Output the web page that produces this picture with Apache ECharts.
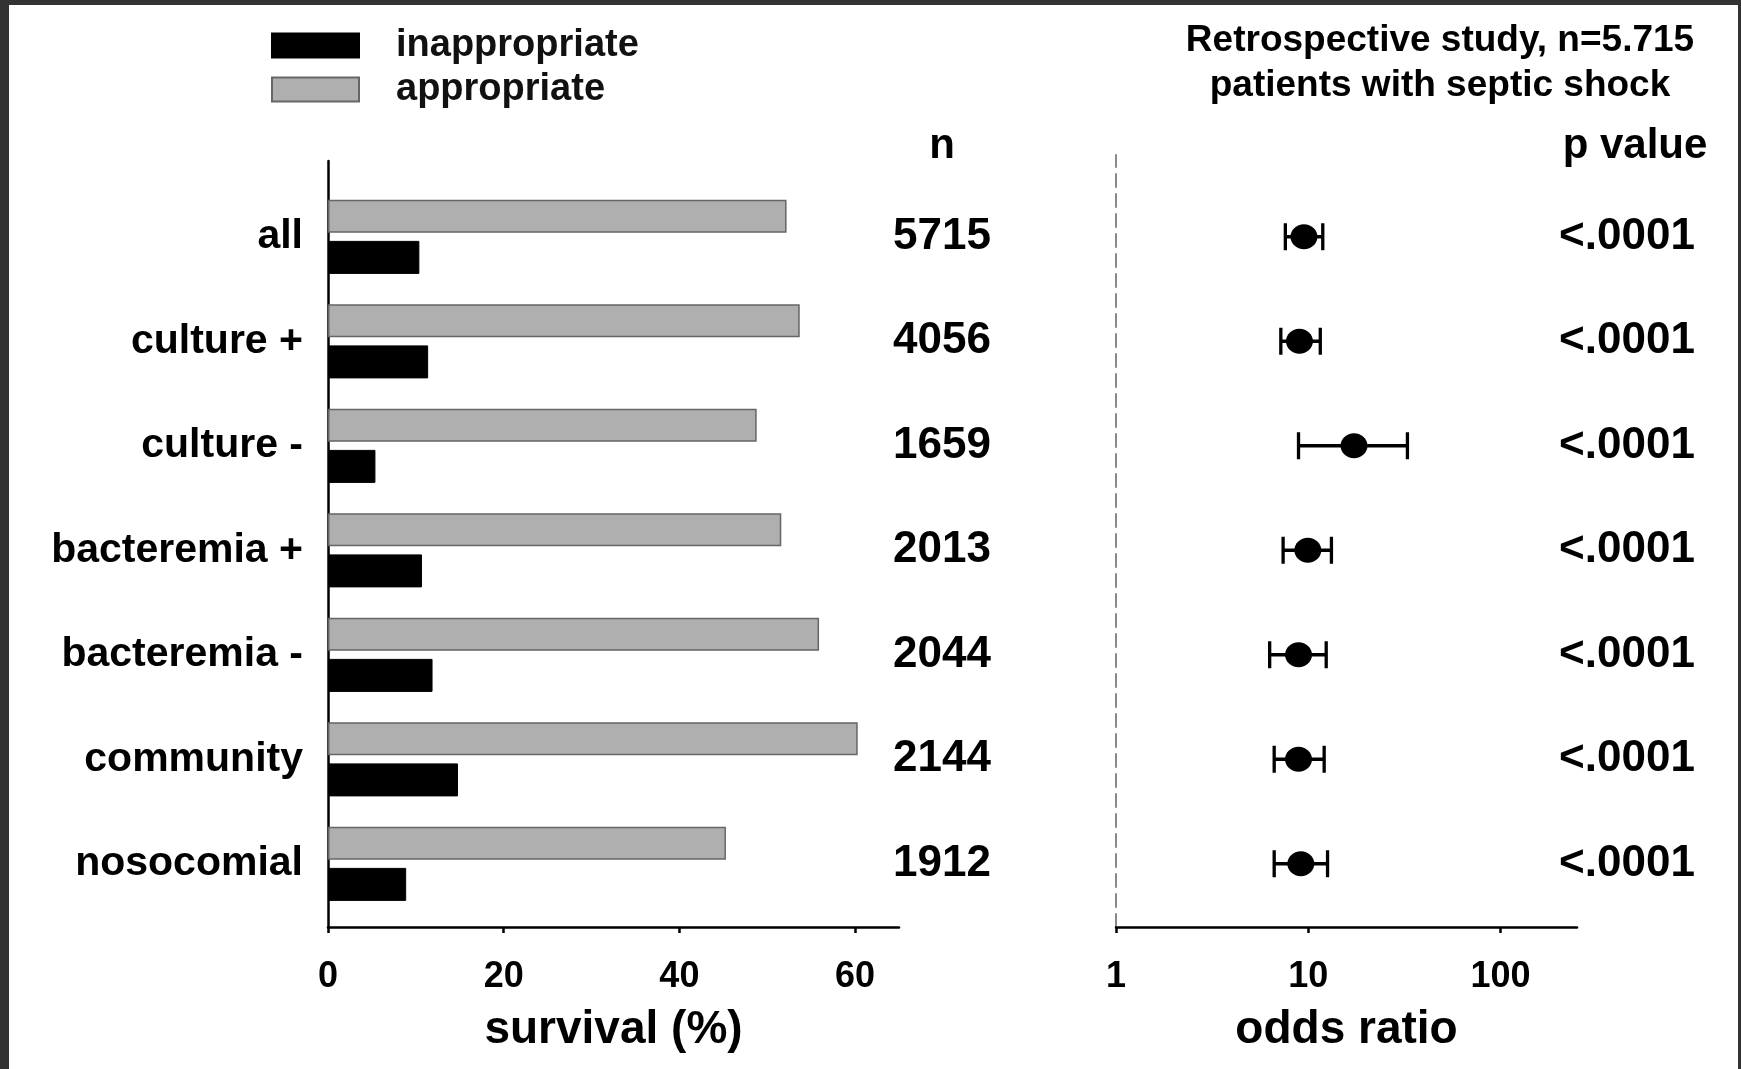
<!DOCTYPE html>
<html>
<head>
<meta charset="utf-8">
<script src="https://cdn.jsdelivr.net/npm/echarts@6/dist/echarts.min.js"></script>
<style>
html,body{margin:0;padding:0;background:#333;}
#chart{position:absolute;left:0;top:0;width:1741px;height:1069px;background:#fff;}
#frame{position:absolute;left:0;top:0;width:1741px;height:1069px;box-sizing:border-box;border-left:9px solid #333;border-top:5px solid #333;border-right:3px solid #333;pointer-events:none;}
</style>
</head>
<body>
<div id="chart"></div>
<div id="frame"></div>
<script>
// ---- data ----
const categories = ['all', 'culture +', 'culture -', 'bacteremia +', 'bacteremia -', 'community', 'nosocomial'];
const appropriate = [52.2, 53.7, 48.8, 51.6, 55.9, 60.3, 45.3];
const inappropriate = [10.4, 11.4, 5.4, 10.7, 11.9, 14.8, 8.9];
const nValues = ['5715', '4056', '1659', '2013', '2044', '2144', '1912'];
const oddsRatio = [9.5, 9.0, 17.3, 9.95, 8.9, 8.9, 9.15];
const ciLow = [7.6, 7.2, 8.9, 7.4, 6.3, 6.65, 6.65];
const ciHigh = [11.9, 11.55, 32.8, 13.2, 12.4, 12.1, 12.6];
const pValues = ['<.0001', '<.0001', '<.0001', '<.0001', '<.0001', '<.0001', '<.0001'];
const survivalTicks = [0, 20, 40, 60];
const oddsTicks = [1, 10, 100];
const legendNames = ['inappropriate', 'appropriate'];
const titleText = 'Retrospective study, n=5.715\npatients with septic shock';

// ---- layout ----
const F = 'Liberation Sans';
const INK = '#000';
const barLeft = 328, barWidthPx = 571;
const forestLeft = 1116, forestWidthPx = 461;
const axisBottom = 1069 - 927;
const rowTop = 184.5, rowHeight = 731.5;

const chart = echarts.init(document.getElementById('chart'));

const forestData = categories.map((c, i) => [oddsRatio[i], i, ciLow[i], ciHigh[i]]);

const boldText = (size) => ({ fontFamily: F, fontWeight: 'bold', fontSize: size, color: INK });

const option = {
  animation: false,
  backgroundColor: '#fff',
  title: [
    { text: titleText, left: 1440, top: 63.5, textAlign: 'center', textVerticalAlign: 'middle', padding: 0,
      textStyle: Object.assign(boldText(37), { lineHeight: 44.5 }) },
    { text: 'n', left: 942, top: 146, textAlign: 'center', textVerticalAlign: 'middle', padding: 0, textStyle: boldText(42) },
    { text: 'p value', left: 1635, top: 146, textAlign: 'center', textVerticalAlign: 'middle', padding: 0, textStyle: boldText(42) }
  ],
  legend: {
    data: legendNames, orient: 'vertical', left: 271, top: 26.5, padding: 0,
    itemWidth: 87, itemHeight: 24, itemGap: 6, icon: 'rect',
    textStyle: { fontFamily: F, fontWeight: 'bold', fontSize: 38, color: '#111', padding: [0, 0, 0, 32] }
  },
  grid: [
    { left: barLeft, width: barWidthPx, top: 161, bottom: axisBottom, containLabel: false },
    { left: barLeft, width: barWidthPx, top: rowTop, height: rowHeight, containLabel: false },
    { left: forestLeft, width: forestWidthPx, top: 155, bottom: axisBottom, containLabel: false },
    { left: forestLeft, width: forestWidthPx, top: rowTop, height: rowHeight, containLabel: false }
  ],
  xAxis: [
    { gridIndex: 0, type: 'value', min: 0, max: 65, interval: 20, position: 'bottom',
      axisLine: { show: true, onZero: false, lineStyle: { color: INK, width: 2.5 } },
      axisTick: { show: true, length: 6, customValues: survivalTicks, lineStyle: { color: INK, width: 2.5 } },
      axisLabel: { customValues: survivalTicks, margin: 32, fontFamily: F, fontWeight: 'bold', fontSize: 36, color: INK },
      splitLine: { show: false },
      name: 'survival (%)', nameLocation: 'middle', nameGap: 80, nameTextStyle: boldText(46) },
    { gridIndex: 1, type: 'value', min: 0, max: 65, show: false, splitLine: { show: false } },
    { gridIndex: 2, type: 'log', logBase: 10, min: 1, max: 250, position: 'bottom',
      axisLine: { show: true, onZero: false, lineStyle: { color: INK, width: 2.5 } },
      axisTick: { show: true, length: 6, customValues: oddsTicks, lineStyle: { color: INK, width: 2.5 } },
      axisLabel: { customValues: oddsTicks, margin: 32, fontFamily: F, fontWeight: 'bold', fontSize: 36, color: INK },
      splitLine: { show: false }, minorTick: { show: false },
      name: 'odds ratio', nameLocation: 'middle', nameGap: 80, nameTextStyle: boldText(46) },
    { gridIndex: 3, type: 'log', logBase: 10, min: 1, max: 250, show: false, splitLine: { show: false } }
  ],
  yAxis: [
    { gridIndex: 0, type: 'value', min: 0, max: 1,
      axisLine: { show: true, onZero: false, lineStyle: { color: INK, width: 2.5 } },
      axisTick: { show: false }, axisLabel: { show: false }, splitLine: { show: false } },
    { gridIndex: 1, type: 'category', data: categories, inverse: true, position: 'left',
      axisLine: { show: false }, axisTick: { show: false },
      axisLabel: { margin: 25, fontFamily: F, fontWeight: 'bold', fontSize: 41, color: INK, interval: 0 } },
    { gridIndex: 1, type: 'category', data: categories, inverse: true, position: 'right',
      axisLine: { show: false }, axisTick: { show: false },
      axisLabel: { formatter: (v, i) => nValues[i], align: 'center', margin: 43, interval: 0,
                   fontFamily: F, fontWeight: 'bold', fontSize: 44, color: INK } },
    { gridIndex: 2, type: 'value', min: 0, max: 1,
      axisLine: { show: true, onZero: false, lineStyle: { color: '#888', width: 2, type: [13, 7] } },
      axisTick: { show: false }, axisLabel: { show: false }, splitLine: { show: false } },
    { gridIndex: 3, type: 'category', data: categories, inverse: true, position: 'left',
      axisLine: { show: false }, axisTick: { show: false }, axisLabel: { show: false } },
    { gridIndex: 3, type: 'category', data: categories, inverse: true, position: 'right',
      axisLine: { show: false }, axisTick: { show: false },
      axisLabel: { formatter: (v, i) => pValues[i], align: 'center', margin: 50, interval: 0,
                   fontFamily: F, fontWeight: 'bold', fontSize: 44, color: INK } }
  ],
  series: [
    { name: 'appropriate', type: 'bar', xAxisIndex: 1, yAxisIndex: 1, data: appropriate,
      barWidth: 33, barGap: '25%',
      itemStyle: { color: '#afafaf', borderColor: '#666', borderWidth: 1.5 } },
    { name: 'inappropriate', type: 'bar', xAxisIndex: 1, yAxisIndex: 1, data: inappropriate,
      barWidth: 33, barGap: '25%',
      itemStyle: { color: '#000', borderColor: '#000', borderWidth: 1 } },
    { name: 'odds ratio', type: 'custom', xAxisIndex: 3, yAxisIndex: 4, data: forestData,
      encode: { x: [0, 2, 3], y: 1 },
      renderItem: function (params, api) {
        const row = api.value(1);
        const c = api.coord([api.value(0), row]);
        const lo = api.coord([api.value(2), row]);
        const hi = api.coord([api.value(3), row]);
        const cap = 13.5;
        const ls = { stroke: '#000', lineWidth: 3.3 };
        return { type: 'group', children: [
          { type: 'line', shape: { x1: lo[0], y1: c[1], x2: hi[0], y2: c[1] }, style: ls },
          { type: 'line', shape: { x1: lo[0], y1: c[1] - cap, x2: lo[0], y2: c[1] + cap }, style: ls },
          { type: 'line', shape: { x1: hi[0], y1: c[1] - cap, x2: hi[0], y2: c[1] + cap }, style: ls },
          { type: 'ellipse', shape: { cx: c[0], cy: c[1], rx: 13.5, ry: 12.5 }, style: { fill: '#000' } }
        ] };
      } }
  ]
};
chart.setOption(option);
</script>
</body>
</html>
